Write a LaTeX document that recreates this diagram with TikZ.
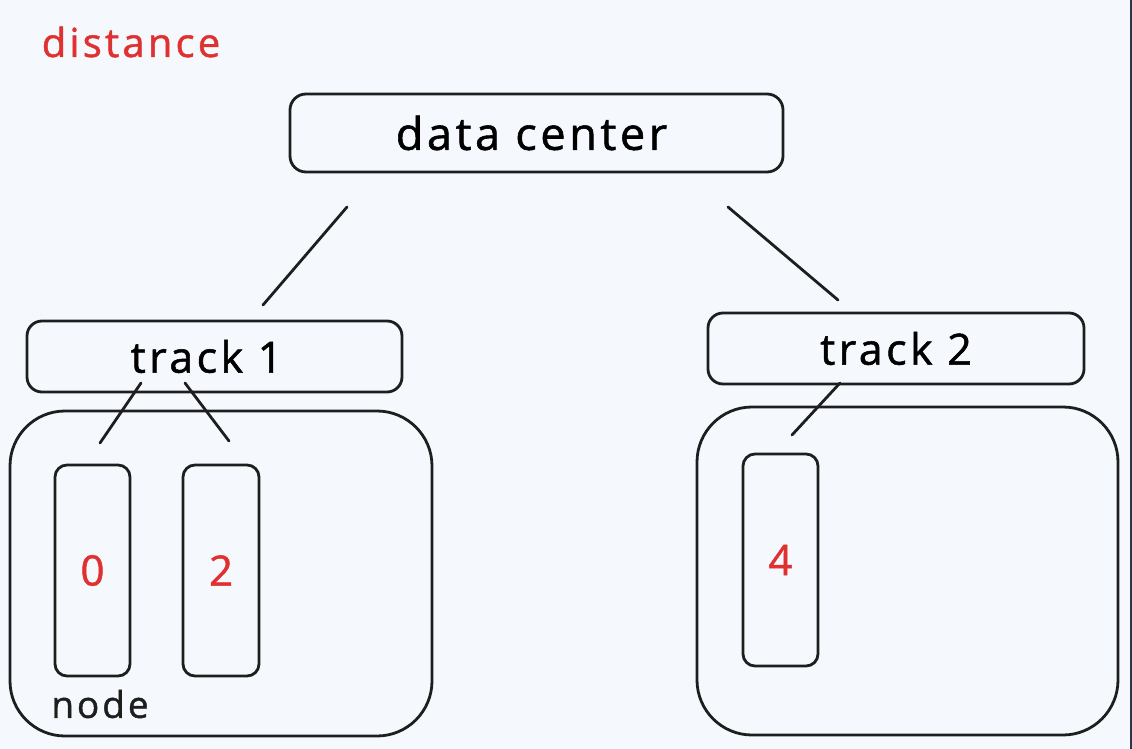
\documentclass[tikz,border=0pt]{standalone}
\usepackage{fontspec}
\setmainfont{Open Sans}[LetterSpace=8,FakeBold=1.2]
\definecolor{bg}{HTML}{F5F9FD}
\definecolor{ink}{HTML}{1E1E1E}
\definecolor{redtxt}{HTML}{E03131}
\definecolor{edgestrip}{HTML}{2D3748}
\tikzset{
  box/.style={draw=ink, line width=2.8pt, rounded corners=#1, inner sep=0pt},
  box/.default=14pt,
  conn/.style={draw=ink, line width=2.8pt, line cap=round},
  lbl/.style={text=ink, inner sep=0pt},
  redlbl/.style={text=redtxt, inner sep=0pt},
}
\begin{document}
\begin{tikzpicture}[x=1pt,y=-1pt]
\fill[bg] (0,0) rectangle (1132,749);
\fill[edgestrip] (1129.5,0) rectangle (1132,749);
\useasboundingbox (0,0) rectangle (1132,749);

% title
\node[redlbl, font=\fontsize{40}{46}\selectfont] (title) at (131,42) {distance};

% data center
\node[box=16pt, minimum width=493pt, minimum height=78pt, font=\fontsize{45}{50}\selectfont] (dc) at (536.5,133) {\kern-10pt data center};

% tracks
\node[box=15pt, minimum width=375pt, minimum height=71pt, font=\fontsize{43}{48}\selectfont] (t1) at (214.5,356.5) {track 1\kern16pt\null};
\node[box=15pt, minimum width=376pt, minimum height=71pt, font=\fontsize{43}{48}\selectfont] (t2) at (896,348.5) {track 2};

% big boxes
\node[box=55pt, minimum width=422pt, minimum height=325pt] (n1) at (221,573.5) {};
\node[box=55pt, minimum width=421pt, minimum height=328pt] (n2) at (907.5,571) {};

% small nodes
\node[box=12pt, minimum width=75pt, minimum height=211pt, text=redtxt, font=\fontsize{42}{46}\selectfont] (p0) at (92.5,570.5) {0};
\node[box=12pt, minimum width=76pt, minimum height=211pt, text=redtxt, font=\fontsize{42}{46}\selectfont] (p2) at (221,570.5) {2};
\node[box=12pt, minimum width=75pt, minimum height=212pt, text=redtxt, font=\fontsize{42}{46}\selectfont] (p4) at (780.5,560) {4};

% node label
\node[lbl, font=\fontsize{37}{42}\selectfont] (nodelbl) at (100,704) {node};

% connectors
\coordinate (a1) at (347,207);
\coordinate (a2) at (263,305);
\coordinate (b1) at (728,207);
\coordinate (b2) at (838,300);
\coordinate (c1) at (141,383);
\coordinate (c2) at (100,443);
\coordinate (d1) at (185,383);
\coordinate (d2) at (229,441);
\coordinate (e1) at (840,383);
\coordinate (e2) at (792,435);
\draw[conn] (a1) -- (a2);
\draw[conn] (b1) -- (b2);
\draw[conn] (c1) -- (c2);
\draw[conn] (d1) -- (d2);
\draw[conn] (e1) -- (e2);
\end{tikzpicture}
\end{document}
